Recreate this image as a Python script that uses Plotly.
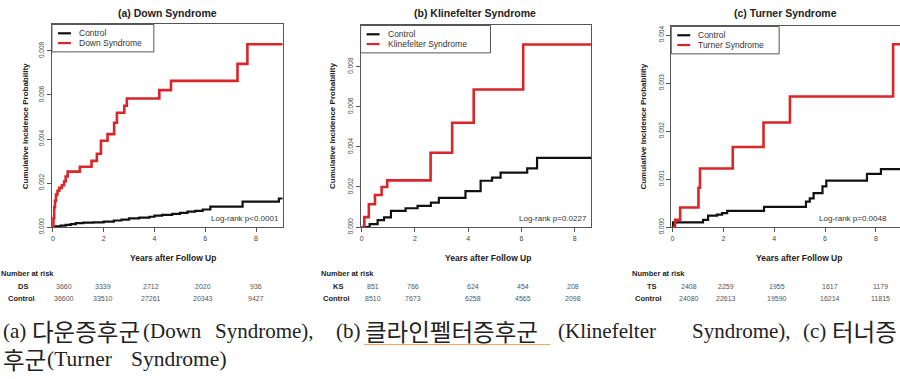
import plotly.graph_objects as go

# ---------------- data ----------------
ds_t = [0, 0.02, 0.05, 0.08, 0.12, 0.18, 0.25, 0.35, 0.44, 0.5, 0.58, 1.06, 1.52, 1.73, 1.89, 2.15, 2.41, 2.52, 2.81, 2.91, 4.19, 4.65, 7.27, 7.66, 9.05]
ds_y = [0, 0.0004, 0.0009, 0.0012, 0.00148, 0.00165, 0.00178, 0.0019, 0.00207, 0.0023, 0.00252, 0.00274, 0.00301, 0.00333, 0.00392, 0.00422, 0.00474, 0.00519, 0.00551, 0.00584, 0.00622, 0.00664, 0.00741, 0.0083, 0.0083]
ds_ctrl_t = [0, 0.1, 0.3, 0.5, 0.7, 0.9, 1.2, 1.6, 2.0, 2.4, 2.7, 3.0, 3.4, 3.8, 4.0, 4.3, 4.7, 5.0, 5.3, 5.6, 5.9, 6.2, 7.47, 8.9, 9.05]
ds_ctrl_y = [0, 0.00003, 0.00007, 0.0001, 0.00014, 0.00018, 0.0002, 0.00022, 0.00025, 0.0003, 0.00034, 0.0004, 0.00043, 0.00047, 0.00052, 0.00056, 0.0006, 0.00065, 0.0007, 0.00074, 0.0008, 0.00093, 0.00116, 0.0013, 0.0013]

ks_t = [0, 0.1, 0.27, 0.5, 0.75, 0.96, 2.59, 3.40, 4.21, 6.07, 8.63]
ks_y = [0, 0.0005, 0.00114, 0.0016, 0.002, 0.00233, 0.00371, 0.0052, 0.00686, 0.0091, 0.0091]
ks_ctrl_t = [0, 0.3, 0.6, 0.84, 1.1, 1.65, 2.1, 2.6, 2.9, 3.9, 4.47, 4.9, 5.22, 6.22, 6.59, 8.63]
ks_ctrl_y = [0, 0.00015, 0.00035, 0.00049, 0.00081, 0.00094, 0.00106, 0.00122, 0.00146, 0.00179, 0.00231, 0.00247, 0.00272, 0.00293, 0.00345, 0.00345]

ts_t = [0, 0.1, 0.3, 1.02, 1.08, 2.37, 3.58, 4.62, 8.68, 8.95]
ts_y = [0, 0.00015, 0.00041, 0.00082, 0.00122, 0.00167, 0.00218, 0.00272, 0.00381, 0.00381]
ts_ctrl_t = [0, 0.02, 1.2, 1.4, 1.75, 1.95, 2.15, 3.6, 5.25, 5.4, 5.55, 5.9, 6.05, 7.65, 8.2, 8.95]
ts_ctrl_y = [0, 0.0001, 0.00015, 0.00024, 0.00026, 0.00029, 0.00034, 0.00042, 0.00053, 0.0006, 0.00071, 0.00085, 0.00097, 0.00111, 0.00121, 0.00121]

titles = ["(a) Down Syndrome", "(b) Klinefelter Syndrome", "(c) Turner Syndrome"]
group_names = ["Down Syndrome", "Klinefelter Syndrome", "Turner Syndrome"]
group_abbr = ["DS", "KS", "TS"]
logrank = ["Log-rank p<0.0001", "Log-rank p=0.0227", "Log-rank p=0.0048"]
risk_group = [[3660, 3339, 2712, 2020, 936], [851, 766, 624, 454, 208], [2408, 2259, 1955, 1617, 1179]]
risk_ctrl = [[36600, 33510, 27261, 20343, 9427], [8510, 7673, 6258, 4565, 2098], [24080, 22613, 19590, 16214, 11815]]
y_ticks = [[0, 0.002, 0.004, 0.006, 0.008], [0, 0.002, 0.004, 0.006, 0.008], [0, 0.001, 0.002, 0.003, 0.004]]
x_ticks = [0, 2, 4, 6, 8]

series = [(ds_t, ds_y, ds_ctrl_t, ds_ctrl_y), (ks_t, ks_y, ks_ctrl_t, ks_ctrl_y), (ts_t, ts_y, ts_ctrl_t, ts_ctrl_y)]

# ---------------- layout geometry (pixels) ----------------
W, H = 900, 379
def px(x): return x / W
def py(y): return 1 - y / H

panel_x = [(51, 282), (360, 591), (671, 900)]
panel_y = [(24, 231), (25, 231), (26, 231)]
x_ranges = [[-0.04, 9.05], [-0.04, 8.63], [-0.05, 8.95]]
y_ranges = [[0, 0.0092], [0, 0.01005], [0, 0.00418]]
title_cx = [167, 475, 785]
ytitle_cx = [24, 332, 643]
xtitle_cx = [172, 488, 799]
risk_label_cx = [22, 337, 652]
ctrl_label_cx = [21, 336, 648]
nrisk_left = [-2, 318, 630]
risk_cols = [[63, 102, 150, 202, 255], [372, 412, 473, 523, 573], [689, 726, 777, 830, 880]]

RED = "#d8262a"
BLACK = "#111111"
AX = "#555555"
SANS = "Liberation Sans, Arial, sans-serif"

fig = go.Figure()
annotations = []
shapes = []

for i in range(3):
    gt, gy, ct, cy = series[i]
    xa = "x" if i == 0 else f"x{i+1}"
    ya = "y" if i == 0 else f"y{i+1}"
    fig.add_trace(go.Scatter(x=ct, y=cy, mode="lines", line=dict(color=BLACK, width=2.2, shape="hv"),
                             name="Control", xaxis=xa, yaxis=ya, showlegend=False))
    fig.add_trace(go.Scatter(x=gt, y=gy, mode="lines", line=dict(color=RED, width=2.6, shape="hv"),
                             name=group_names[i], xaxis=xa, yaxis=ya, showlegend=False))
    xk = "xaxis" if i == 0 else f"xaxis{i+1}"
    yk = "yaxis" if i == 0 else f"yaxis{i+1}"
    x0, x1 = panel_x[i]
    y0, y1 = panel_y[i]
    fig.layout[xk] = dict(domain=[px(x0), px(x1)], range=x_ranges[i], anchor=ya,
                          tickvals=x_ticks, ticks="outside", ticklen=4, tickcolor=AX,
                          showline=True, linecolor=AX, linewidth=1, mirror=True,
                          showgrid=False, zeroline=False,
                          tickfont=dict(family=SANS, size=7, color="#444"))
    fig.layout[yk] = dict(domain=[py(y1), py(y0)], range=y_ranges[i], anchor=xa,
                          tickvals=y_ticks[i], tickformat=".3f", ticks="outside", ticklen=4, tickcolor=AX,
                          showline=True, linecolor=AX, linewidth=1, mirror=(i < 2),
                          showgrid=False, zeroline=False, tickangle=-90,
                          tickfont=dict(family=SANS, size=6.5, color="#444"))
    annotations.append(dict(text="<b>" + titles[i] + "</b>", x=px(title_cx[i]), y=py(12), xref="paper", yref="paper",
                            showarrow=False, xanchor="center", yanchor="middle",
                            font=dict(family=SANS, size=10.5, color="#222")))
    annotations.append(dict(text="<b>Cumulative Incidence Probability</b>", x=px(ytitle_cx[i]), y=py(128),
                            xref="paper", yref="paper", showarrow=False, textangle=-90,
                            xanchor="center", yanchor="middle", font=dict(family=SANS, size=8, color="#222")))
    annotations.append(dict(text="<b>Years after Follow Up</b>", x=px(xtitle_cx[i]), y=py(263),
                            xref="paper", yref="paper", showarrow=False, xanchor="center", yanchor="middle",
                            font=dict(family=SANS, size=8.5, color="#222")))
    if i < 2:
        annotations.append(dict(text=logrank[i], x=px(x1 - 2), y=py(222), xref="paper", yref="paper",
                                showarrow=False, xanchor="right", yanchor="middle",
                                font=dict(family=SANS, size=8, color="#333")))
    else:
        annotations.append(dict(text=logrank[i], x=px(817), y=py(222), xref="paper", yref="paper",
                                showarrow=False, xanchor="left", yanchor="middle",
                                font=dict(family=SANS, size=8, color="#333")))
    lw = [102, 130, 108][i]
    shapes.append(dict(type="rect", xref="paper", yref="paper", x0=px(x0), x1=px(x0 + lw),
                       y0=py(y0 + 28), y1=py(y0), line=dict(color=AX, width=1), fillcolor="white"))
    for j, (nm, col) in enumerate([("Control", BLACK), (group_names[i], RED)]):
        yy = y0 + 9 + 10 * j
        shapes.append(dict(type="line", xref="paper", yref="paper", x0=px(x0 + 6), x1=px(x0 + 19),
                           y0=py(yy), y1=py(yy), line=dict(color=col, width=2.2)))
        annotations.append(dict(text=nm, x=px(x0 + 25), y=py(yy), xref="paper", yref="paper",
                                showarrow=False, xanchor="left", yanchor="middle",
                                font=dict(family=SANS, size=8.5, color="#333")))
    annotations.append(dict(text="<b>Number at risk</b>", x=px(nrisk_left[i]), y=py(278), xref="paper", yref="paper",
                            showarrow=False, xanchor="left", yanchor="middle",
                            font=dict(family=SANS, size=7.5, color="#222")))
    annotations.append(dict(text="<b>" + group_abbr[i] + "</b>", x=px(risk_label_cx[i]), y=py(292),
                            xref="paper", yref="paper", showarrow=False, xanchor="center", yanchor="middle",
                            font=dict(family=SANS, size=7.5, color="#222")))
    annotations.append(dict(text="<b>Control</b>", x=px(ctrl_label_cx[i]), y=py(304),
                            xref="paper", yref="paper", showarrow=False, xanchor="center", yanchor="middle",
                            font=dict(family=SANS, size=7.5, color="#222")))
    for k in range(5):
        annotations.append(dict(text=str(risk_group[i][k]), x=px(risk_cols[i][k]), y=py(292),
                                xref="paper", yref="paper", showarrow=False, xanchor="center", yanchor="middle",
                                font=dict(family=SANS, size=7, color="#555")))
        annotations.append(dict(text=str(risk_ctrl[i][k]), x=px(risk_cols[i][k]), y=py(304),
                                xref="paper", yref="paper", showarrow=False, xanchor="center", yanchor="middle",
                                font=dict(family=SANS, size=7, color="#555")))

# caption (justified paragraph, split into chunks)
SERIF = "Liberation Serif, Noto Sans CJK KR, serif"
KR = "Noto Sans CJK KR, sans-serif"
caption_chunks = [
    ("(a)", 0, 337, SERIF, 21), ("다운증후군", 29, 337, KR, 23.5), ("(Down", 140, 337, SERIF, 21),
    ("Syndrome),", 212, 337, SERIF, 21),
    ("(b)", 333, 337, SERIF, 21), ("클라인펠터증후군", 362, 337, KR, 23.5),
    ("(Klinefelter", 556, 337, SERIF, 21), ("Syndrome),", 690, 337, SERIF, 21),
    ("(c)", 801, 337, SERIF, 21), ("터너증", 830, 337, KR, 23.5),
    ("후군", 0, 366, KR, 23.5), ("(Turner", 44, 366, SERIF, 21.5), ("Syndrome)", 128, 366, SERIF, 21.5),
]
for txt, xl, yc, fam, sz in caption_chunks:
    annotations.append(dict(text=txt, x=px(xl), y=py(yc), xref="paper", yref="paper", showarrow=False,
                            xanchor="left", yanchor="middle", font=dict(family=fam, size=sz, color="#222")))
shapes.append(dict(type="line", xref="paper", yref="paper", x0=px(363), x1=px(550), y0=py(351), y1=py(351),
                   line=dict(color="#e8a35a", width=1)))

fig.update_layout(width=W, height=H, margin=dict(l=0, r=0, t=0, b=0),
                  paper_bgcolor="white", plot_bgcolor="white",
                  annotations=annotations, shapes=shapes, showlegend=False)

fig.write_html("out.html", config={"displayModeBar": False},
               post_script="document.body.style.margin='0';document.body.style.padding='0';document.body.style.overflow='hidden';")
